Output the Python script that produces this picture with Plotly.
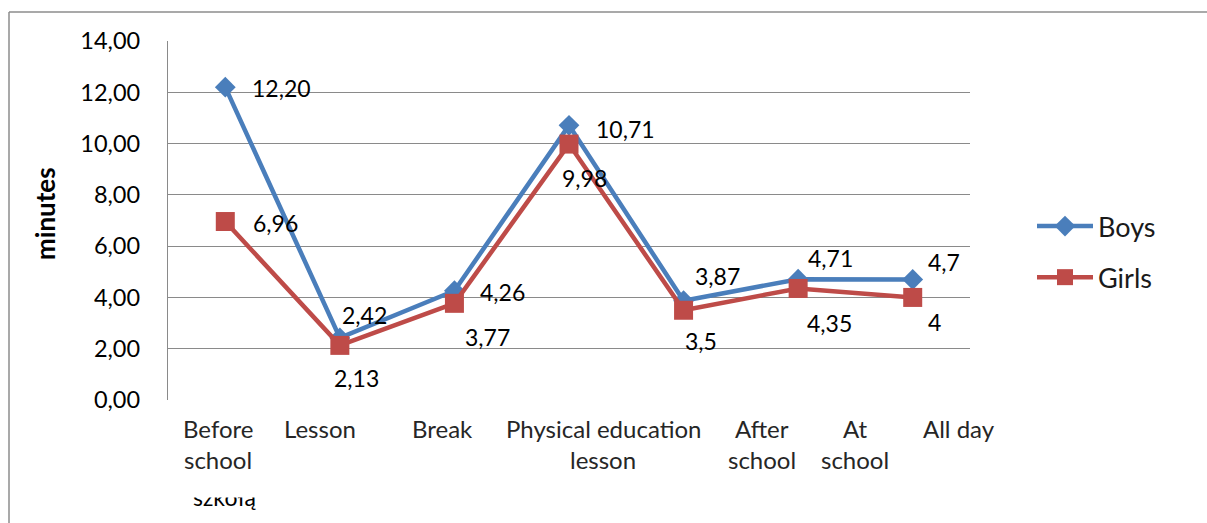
import plotly.graph_objects as go

# ---- data ----
categories = ["Before school", "Lesson", "Break", "Physical education lesson",
              "After school", "At school", "All day"]
tick_labels = ["Before<br>school", "Lesson", "Break", "Physical education<br>lesson",
               "After<br>school", "At<br>school", "All day"]
boys = [12.20, 2.42, 4.26, 10.71, 3.87, 4.71, 4.70]
girls = [6.96, 2.13, 3.77, 9.98, 3.50, 4.35, 4.00]
boys_text = ["12,20", "2,42", "4,26", "10,71", "3,87", "4,71", "4,7"]
girls_text = ["6,96", "2,13", "3,77", "9,98", "3,5", "4,35", "4"]
y_ticks = [0, 2, 4, 6, 8, 10, 12, 14]

# ---- label placement (pixel offsets from the point, right / down) ----
boys_off = [(56, 1), (25, -23), (48, 1), (56, 4), (34, -25), (32, -21), (31, -17)]
girls_off = [(50, 1), (17, 33), (33, 34), (15, 34), (17, 31), (31, 35), (22, 25)]
cat_shift = [-7, -20, -12, 34, 78, 57, 46]

W, H = 1207, 523
L, R, T, B = 168, 970, 41, 400
FONT = "Lato"
BLUE = "#4A7EBB"
RED = "#BE4B48"
GRID = "#8A8A8A"


def px(xp):
    return (xp - L) / (R - L)


def py(yp):
    return (B - yp) / (B - T)


fig = go.Figure()
fig.add_trace(go.Scatter(
    x=categories, y=boys, name="Boys", mode="lines+markers", legendgroup="b",
    line=dict(color=BLUE, width=4.5),
    marker=dict(symbol="diamond", size=16, color=BLUE),
))
fig.add_trace(go.Scatter(
    x=categories, y=girls, name="Girls", mode="lines+markers", legendgroup="g",
    line=dict(color=RED, width=4.5),
    marker=dict(symbol="square", size=19, color=RED),
))

ann = []
for c, v, t, (dx, dy) in zip(categories, boys, boys_text, boys_off):
    ann.append(dict(x=c, y=v, text=t, showarrow=False, xanchor="center", yanchor="middle",
                    xshift=dx, yshift=-dy, font=dict(family=FONT, size=23, color="black")))
for c, v, t, (dx, dy) in zip(categories, girls, girls_text, girls_off):
    ann.append(dict(x=c, y=v, text=t, showarrow=False, xanchor="center", yanchor="middle",
                    xshift=dx, yshift=-dy, font=dict(family=FONT, size=23, color="black")))

# category labels (drawn line by line)
for c, lab, sh in zip(categories, tick_labels, cat_shift):
    for k, line in enumerate(lab.split("<br>")):
        ann.append(dict(x=c, y=0, yref="paper", text=line, showarrow=False,
                        xanchor="center", yanchor="middle", xshift=sh,
                        yshift=-(428 - B) - 31 * k,
                        font=dict(family=FONT, size=24, color="#262626")))

# y axis title
ann.append(dict(x=px(45), y=py(214), xref="paper", yref="paper", text="<b>minutes</b>",
                showarrow=False, textangle=-90, xanchor="center", yanchor="middle",
                font=dict(family=FONT, size=26, color="black")))

# clipped leftover word at the bottom (top half hidden by a white box)
ann.append(dict(x=categories[0], y=py(497), yref="paper", text="szkołą", showarrow=False,
                xanchor="center", yanchor="middle", xshift=0,
                font=dict(family=FONT, size=23, color="black")))
ann.append(dict(x=px(225), y=py(486), xref="paper", yref="paper", text="\u00a0",
                showarrow=False, xanchor="center", yanchor="middle", width=100, height=22,
                bgcolor="white", borderpad=0, font=dict(size=8, color="white")))

shapes = [
    dict(type="line", xref="paper", yref="paper", x0=px(9), x1=px(9), y0=py(12), y1=py(540),
         line=dict(color="#8C8C8C", width=1.5)),
    dict(type="line", xref="paper", yref="paper", x0=px(9), x1=px(1220), y0=py(12), y1=py(12),
         line=dict(color="#8C8C8C", width=1.5)),
]

fig.update_layout(
    width=W, height=H,
    margin=dict(l=L, r=W - R, t=T, b=H - B, autoexpand=False),
    paper_bgcolor="white", plot_bgcolor="white",
    separators=", ",
    font=dict(family=FONT, size=22, color="black"),
    showlegend=True,
    legend=dict(x=px(1032), y=py(202), xanchor="left", yanchor="top",
                font=dict(family=FONT, size=27, color="#1a1a1a"),
                tracegroupgap=13, itemwidth=56, bgcolor="rgba(0,0,0,0)"),
    annotations=ann,
    shapes=shapes,
)
fig.update_xaxes(range=[-0.5, len(categories) - 0.5], showgrid=False, showline=False,
                 zeroline=False, showticklabels=False, ticks="")
fig.update_yaxes(range=[0, 14], tickvals=y_ticks, tickformat=".2f",
                 showgrid=True, gridcolor=GRID, gridwidth=1.3,
                 showline=True, linecolor=GRID, linewidth=1.3,
                 zeroline=True, zerolinecolor="white", zerolinewidth=2,
                 ticks="", ticklabelstandoff=22,
                 tickfont=dict(family=FONT, size=23.5, color="black"))

fig.write_html("out.html")
